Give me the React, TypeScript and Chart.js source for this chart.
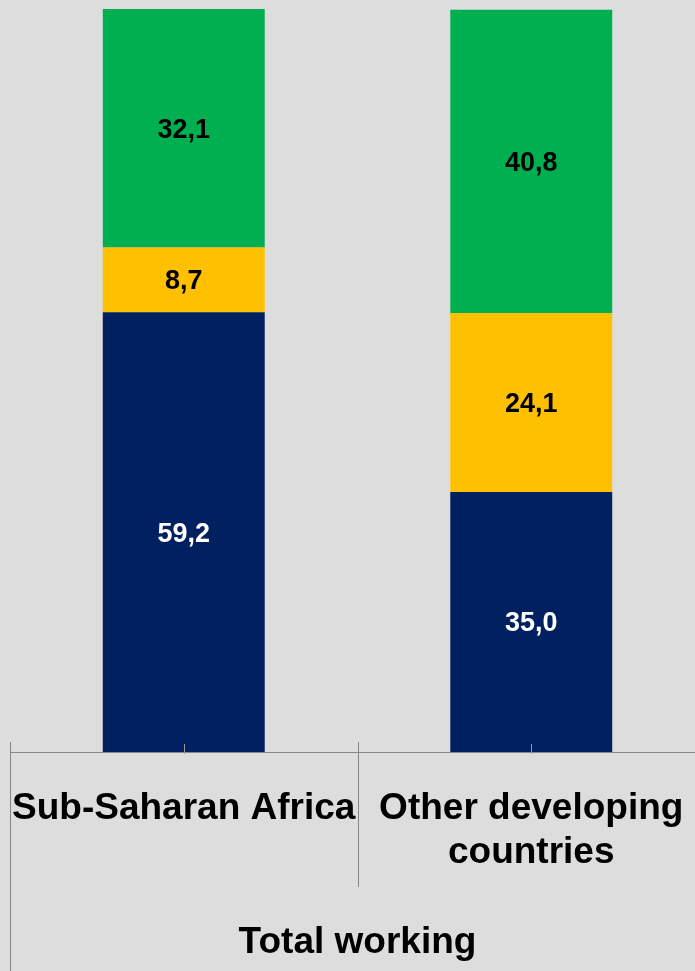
import React, { useEffect, useRef } from "react";
import { Chart, registerables } from "chart.js";

Chart.register(...registerables);

const categories: (string | string[])[] = ["Sub-Saharan Africa", ["Other developing", "countries"]];
const groupLabel = "Total working";
const seriesNames = ["Series 1", "Series 2", "Series 3"];
const navyValues = [59.2, 35.0];
const yellowValues = [8.7, 24.1];
const greenValues = [32.1, 40.8];
const seriesColors = ["#002060", "#FFC000", "#00B050"];
const labelColors = ["#FFFFFF", "#000000", "#000000"];

const FONT = '"Liberation Sans", Arial, sans-serif';
const BG = "#DDDDDD";
const LINE = "#868686";

const overlayPlugin = {
  id: "overlay",
  afterDatasetsDraw(chart: any) {
    const ctx = chart.ctx as CanvasRenderingContext2D;
    const area = chart.chartArea;
    const xScale = chart.scales.x;
    ctx.save();
    // value labels
    ctx.font = `bold 27px ${FONT}`;
    ctx.textAlign = "center";
    ctx.textBaseline = "middle";
    chart.data.datasets.forEach((ds: any, di: number) => {
      const meta = chart.getDatasetMeta(di);
      meta.data.forEach((bar: any, i: number) => {
        const v = ds.data[i];
        const yMid = (bar.y + bar.base) / 2;
        ctx.fillStyle = labelColors[di];
        ctx.fillText(v.toFixed(1).replace(".", ","), bar.x, yMid + 2);
      });
    });
    // axis line
    const yAxis = Math.round(area.bottom) + 0.5;
    ctx.strokeStyle = LINE;
    ctx.lineWidth = 1;
    ctx.beginPath();
    ctx.moveTo(area.left, yAxis);
    ctx.lineTo(area.right, yAxis);
    ctx.stroke();
    // tick marks at category centers
    const n = categories.length;
    for (let i = 0; i < n; i++) {
      const x = Math.round(xScale.getPixelForValue(i)) + 0.5;
      ctx.strokeStyle = "#9A9A9A";
      ctx.beginPath();
      ctx.moveTo(x, area.bottom - 8);
      ctx.lineTo(x, area.bottom + 2);
      ctx.stroke();
    }
    // separators
    const half = (xScale.getPixelForValue(1) - xScale.getPixelForValue(0)) / 2;
    ctx.strokeStyle = LINE;
    const leftX = Math.round(xScale.getPixelForValue(0) - half) + 0.5;
    ctx.beginPath();
    ctx.moveTo(leftX, area.bottom - 10);
    ctx.lineTo(leftX, chart.height);
    ctx.stroke();
    for (let i = 1; i < n; i++) {
      const sx = Math.round(xScale.getPixelForValue(i) - half) + 0.5;
      ctx.beginPath();
      ctx.moveTo(sx, area.bottom - 10);
      ctx.lineTo(sx, area.bottom + 135);
      ctx.stroke();
    }
    // category labels
    ctx.fillStyle = "#000000";
    ctx.font = `bold 37px ${FONT}`;
    ctx.textBaseline = "alphabetic";
    categories.forEach((c, i) => {
      const lines = Array.isArray(c) ? c : [c];
      const x = xScale.getPixelForValue(i);
      lines.forEach((ln, li) => {
        ctx.fillText(ln, x, area.bottom + 67 + li * 44);
      });
    });
    // group label
    ctx.fillText(groupLabel, (area.left + area.right) / 2, area.bottom + 201);
    ctx.restore();
  },
};

export default function App() {
  const ref = useRef<HTMLCanvasElement>(null);
  useEffect(() => {
    document.body.style.margin = "0";
    document.body.style.background = BG;
    const canvas = ref.current!;
    const chart = new Chart(canvas, {
      type: "bar",
      data: {
        labels: categories.map((c) => (Array.isArray(c) ? c.join(" ") : c)),
        datasets: [
          { label: seriesNames[0], data: navyValues, backgroundColor: seriesColors[0] },
          { label: seriesNames[1], data: yellowValues, backgroundColor: seriesColors[1] },
          { label: seriesNames[2], data: greenValues, backgroundColor: seriesColors[2] },
        ],
      },
      options: {
        responsive: false,
        animation: false,
        devicePixelRatio: 1,
        layout: { padding: { left: 10, right: 0, top: 9, bottom: 219 } },
        datasets: { bar: { categoryPercentage: 1, barPercentage: 0.466, borderWidth: 0 } },
        plugins: { legend: { display: false }, tooltip: { enabled: false } },
        scales: {
          x: { stacked: true, display: false },
          y: { stacked: true, display: false, min: 0, max: 100 },
        },
      },
      plugins: [overlayPlugin],
    });
    return () => chart.destroy();
  }, []);
  return (
    <div style={{ position: "absolute", left: 0, top: 0, width: 695, height: 971, overflow: "hidden", background: BG }}>
      <canvas ref={ref} width={705} height={971} style={{ display: "block" }} />
    </div>
  );
}
